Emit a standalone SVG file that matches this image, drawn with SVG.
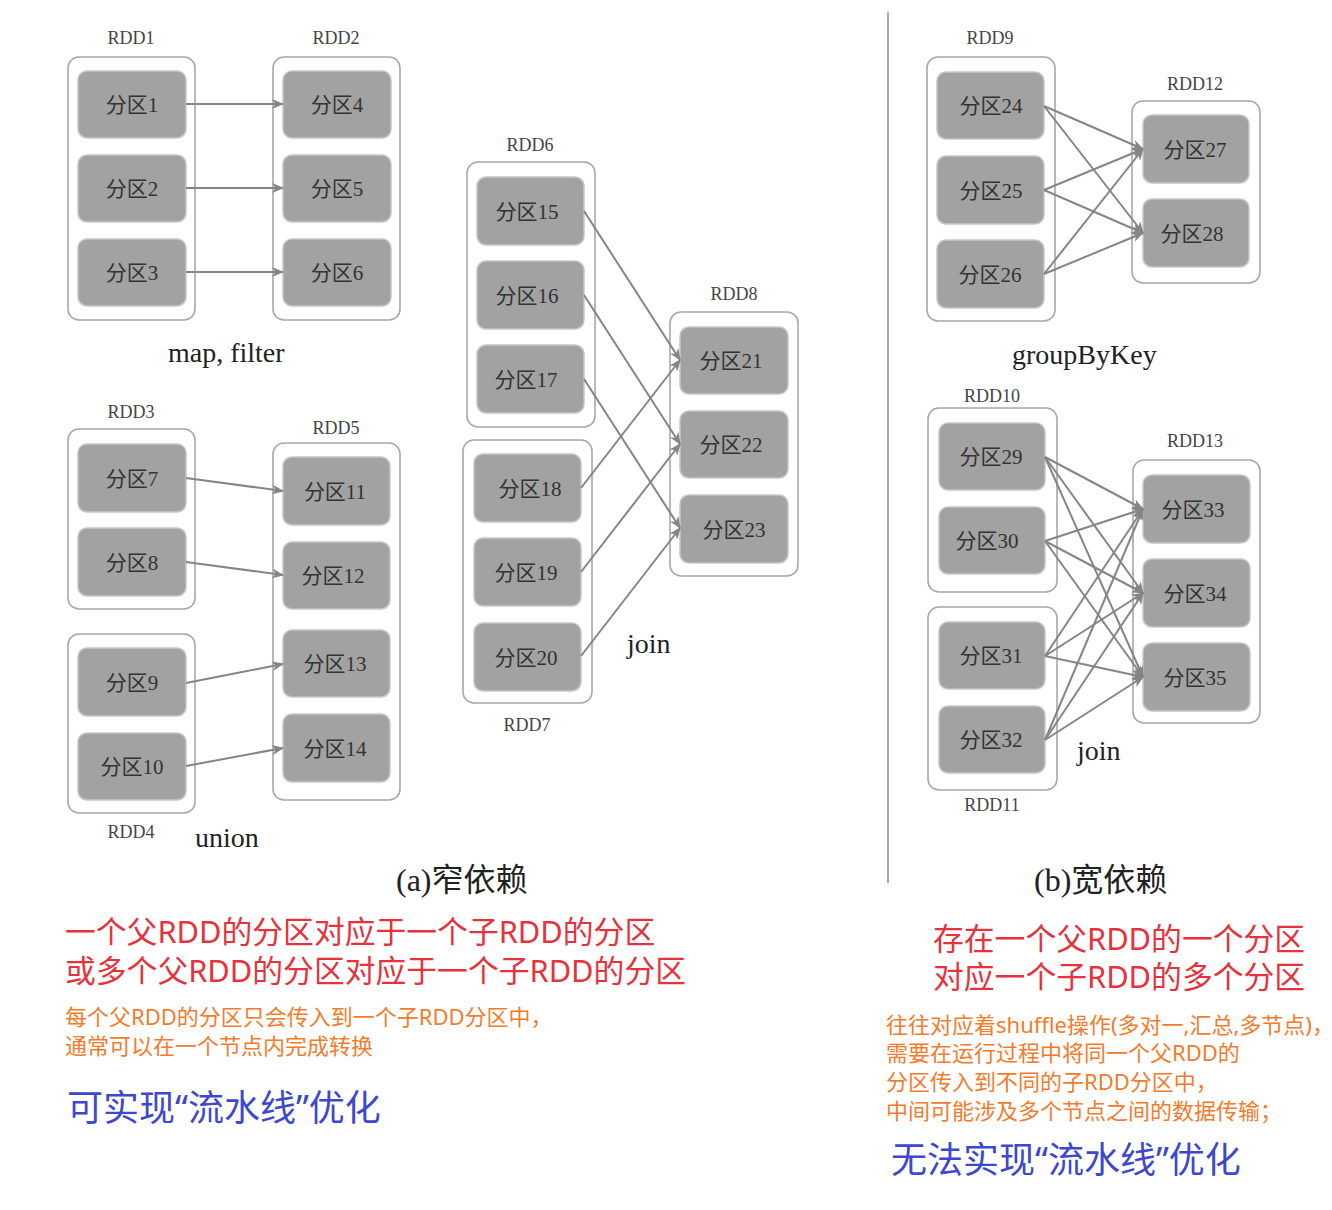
<svg xmlns="http://www.w3.org/2000/svg" width="1332" height="1210" viewBox="0 0 1332 1210">
  <style>
    .rdd { fill: #ffffff; stroke: #a8a8a8; stroke-width: 1.6; }
    .part rect { fill: #a2a2a2; stroke: #c6c6c6; stroke-width: 1.5; }
    .part text { font-family: "Liberation Serif", "Noto Sans CJK SC", serif; font-size: 21px; fill: #333333; text-anchor: middle; }
    .lbl { font-family: "Liberation Serif", serif; font-size: 18px; fill: #444444; text-anchor: middle; }
    .op { font-family: "Liberation Serif", serif; font-size: 28px; fill: #222222; }
    .cap { font-family: "Liberation Serif", "Noto Sans CJK SC", serif; font-size: 32px; fill: #222222; }
    .edge { stroke: #858585; stroke-width: 2; fill: none; marker-end: url(#arrow); }
    .note { font-family: "Noto Sans", "Noto Sans CJK SC", sans-serif; }
    .red { fill: #e5323d; font-size: 30.8px; }
    .org { fill: #f47b2b; font-size: 22px; }
    .blu { fill: #3d48cc; font-size: 36px; }
  </style>
  <defs>
    <marker id="arrow" viewBox="0 0 12 10" refX="11" refY="5" markerWidth="12" markerHeight="10" markerUnits="userSpaceOnUse" orient="auto">
      <path d="M0,0 L12,5 L0,10 L3.5,5 z" fill="#858585"/>
    </marker>
  </defs>

  <rect width="1332" height="1210" fill="#ffffff"/>

  <!-- divider between narrow and wide dependencies -->
  <line x1="888" y1="12" x2="888" y2="883" stroke="#a8a8a8" stroke-width="2"/>

  <!-- ===== (a) narrow dependencies ===== -->
  <g id="rdd1">
    <text class="lbl" x="131" y="44">RDD1</text>
    <rect class="rdd" x="68" y="57" width="127" height="263" rx="11"/>
    <g id="p1" class="part"><rect x="78" y="71" width="108" height="67" rx="9"/><text x="132" y="112">分区1</text></g>
    <g id="p2" class="part"><rect x="78" y="155" width="108" height="67" rx="9"/><text x="132" y="196">分区2</text></g>
    <g id="p3" class="part"><rect x="78" y="239" width="108" height="67" rx="9"/><text x="132" y="280">分区3</text></g>
  </g>
  <g id="rdd2">
    <text class="lbl" x="336" y="44">RDD2</text>
    <rect class="rdd" x="273" y="57" width="127" height="263" rx="11"/>
    <g id="p4" class="part"><rect x="283" y="71" width="108" height="67" rx="9"/><text x="337" y="112">分区4</text></g>
    <g id="p5" class="part"><rect x="283" y="155" width="108" height="67" rx="9"/><text x="337" y="196">分区5</text></g>
    <g id="p6" class="part"><rect x="283" y="239" width="108" height="67" rx="9"/><text x="337" y="280">分区6</text></g>
  </g>
  <text class="op" x="168" y="362">map, filter</text>

  <g id="rdd3">
    <text class="lbl" x="131" y="418">RDD3</text>
    <rect class="rdd" x="68" y="429" width="127" height="180" rx="11"/>
    <g id="p7" class="part"><rect x="78" y="444" width="108" height="68" rx="9"/><text x="132" y="486">分区7</text></g>
    <g id="p8" class="part"><rect x="78" y="528" width="108" height="68" rx="9"/><text x="132" y="570">分区8</text></g>
  </g>
  <g id="rdd4">
    <rect class="rdd" x="68" y="634" width="127" height="179" rx="11"/>
    <g id="p9" class="part"><rect x="78" y="648" width="108" height="68" rx="9"/><text x="132" y="690">分区9</text></g>
    <g id="p10" class="part"><rect x="78" y="733" width="108" height="67" rx="9"/><text x="132" y="774">分区10</text></g>
    <text class="lbl" x="131" y="838">RDD4</text>
  </g>
  <g id="rdd5">
    <text class="lbl" x="336" y="434">RDD5</text>
    <rect class="rdd" x="273" y="443" width="127" height="357" rx="11"/>
    <g id="p11" class="part"><rect x="283" y="457" width="107" height="68" rx="9"/><text x="335" y="499">分区11</text></g>
    <g id="p12" class="part"><rect x="283" y="542" width="107" height="67" rx="9"/><text x="333" y="583">分区12</text></g>
    <g id="p13" class="part"><rect x="283" y="630" width="107" height="67" rx="9"/><text x="335" y="671">分区13</text></g>
    <g id="p14" class="part"><rect x="283" y="714" width="107" height="68" rx="9"/><text x="335" y="756">分区14</text></g>
  </g>
  <text class="op" x="195" y="847">union</text>

  <g id="rdd6">
    <text class="lbl" x="530" y="151">RDD6</text>
    <rect class="rdd" x="467" y="162" width="128" height="265" rx="11"/>
    <g id="p15" class="part"><rect x="477" y="177" width="107" height="68" rx="9"/><text x="527" y="219">分区15</text></g>
    <g id="p16" class="part"><rect x="477" y="261" width="107" height="68" rx="9"/><text x="527" y="303">分区16</text></g>
    <g id="p17" class="part"><rect x="477" y="345" width="107" height="68" rx="9"/><text x="526" y="387">分区17</text></g>
  </g>
  <g id="rdd7">
    <rect class="rdd" x="463" y="440" width="129" height="263" rx="11"/>
    <g id="p18" class="part"><rect x="474" y="454" width="107" height="68" rx="9"/><text x="530" y="496">分区18</text></g>
    <g id="p19" class="part"><rect x="474" y="538" width="107" height="68" rx="9"/><text x="526" y="580">分区19</text></g>
    <g id="p20" class="part"><rect x="474" y="623" width="107" height="68" rx="9"/><text x="526" y="665">分区20</text></g>
    <text class="lbl" x="527" y="731">RDD7</text>
  </g>
  <g id="rdd8">
    <text class="lbl" x="734" y="300">RDD8</text>
    <rect class="rdd" x="670" y="312" width="128" height="264" rx="11"/>
    <g id="p21" class="part"><rect x="680" y="327" width="108" height="67" rx="9"/><text x="731" y="368">分区21</text></g>
    <g id="p22" class="part"><rect x="680" y="411" width="108" height="67" rx="9"/><text x="731" y="452">分区22</text></g>
    <g id="p23" class="part"><rect x="680" y="495" width="108" height="68" rx="9"/><text x="734" y="537">分区23</text></g>
  </g>
  <text class="op" x="627" y="653">join</text>

  <text class="cap" x="396" y="891">(a)窄依赖</text>

  <!-- ===== (b) wide dependencies ===== -->
  <g id="rdd9">
    <text class="lbl" x="990" y="44">RDD9</text>
    <rect class="rdd" x="927" y="57" width="128" height="264" rx="11"/>
    <g id="p24" class="part"><rect x="937" y="72" width="107" height="67" rx="9"/><text x="991" y="113">分区24</text></g>
    <g id="p25" class="part"><rect x="937" y="156" width="107" height="68" rx="9"/><text x="991" y="198">分区25</text></g>
    <g id="p26" class="part"><rect x="937" y="240" width="107" height="68" rx="9"/><text x="990" y="282">分区26</text></g>
  </g>
  <g id="rdd12">
    <text class="lbl" x="1195" y="90">RDD12</text>
    <rect class="rdd" x="1132" y="101" width="128" height="182" rx="11"/>
    <g id="p27" class="part"><rect x="1143" y="115" width="106" height="68" rx="9"/><text x="1195" y="157">分区27</text></g>
    <g id="p28" class="part"><rect x="1143" y="199" width="106" height="68" rx="9"/><text x="1192" y="241">分区28</text></g>
  </g>
  <text class="op" x="1012" y="364">groupByKey</text>

  <g id="rdd10">
    <text class="lbl" x="992" y="402">RDD10</text>
    <rect class="rdd" x="928" y="408" width="129" height="184" rx="11"/>
    <g id="p29" class="part"><rect x="939" y="423" width="106" height="67" rx="9"/><text x="991" y="464">分区29</text></g>
    <g id="p30" class="part"><rect x="939" y="507" width="106" height="67" rx="9"/><text x="987" y="548">分区30</text></g>
  </g>
  <g id="rdd11">
    <rect class="rdd" x="928" y="607" width="129" height="183" rx="11"/>
    <g id="p31" class="part"><rect x="939" y="622" width="106" height="67" rx="9"/><text x="991" y="663">分区31</text></g>
    <g id="p32" class="part"><rect x="939" y="706" width="106" height="67" rx="9"/><text x="991" y="747">分区32</text></g>
    <text class="lbl" x="992" y="811">RDD11</text>
  </g>
  <g id="rdd13">
    <text class="lbl" x="1195" y="447">RDD13</text>
    <rect class="rdd" x="1133" y="460" width="127" height="263" rx="11"/>
    <g id="p33" class="part"><rect x="1143" y="475" width="107" height="68" rx="9"/><text x="1193" y="517">分区33</text></g>
    <g id="p34" class="part"><rect x="1143" y="559" width="107" height="68" rx="9"/><text x="1195" y="601">分区34</text></g>
    <g id="p35" class="part"><rect x="1143" y="643" width="107" height="68" rx="9"/><text x="1195" y="685">分区35</text></g>
  </g>
  <text class="op" x="1077" y="760">join</text>

  <text class="cap" x="1034" y="891">(b)宽依赖</text>

  <!-- ===== connectors ===== -->
  <g id="edges">
    <!-- map, filter -->
    <line class="edge" x1="186" y1="104" x2="283" y2="104"/>
    <line class="edge" x1="186" y1="188" x2="283" y2="188"/>
    <line class="edge" x1="186" y1="272" x2="283" y2="272"/>
    <!-- union -->
    <line class="edge" x1="186" y1="478" x2="283" y2="491"/>
    <line class="edge" x1="186" y1="562" x2="283" y2="575"/>
    <line class="edge" x1="186" y1="683" x2="283" y2="664"/>
    <line class="edge" x1="186" y1="766" x2="283" y2="748"/>
    <!-- join (co-partitioned) -->
    <line class="edge" x1="584" y1="211" x2="680" y2="360"/>
    <line class="edge" x1="584" y1="295" x2="680" y2="444"/>
    <line class="edge" x1="584" y1="379" x2="680" y2="528"/>
    <line class="edge" x1="581" y1="488" x2="680" y2="360"/>
    <line class="edge" x1="581" y1="572" x2="680" y2="444"/>
    <line class="edge" x1="581" y1="656" x2="680" y2="528"/>
    <!-- groupByKey -->
    <line class="edge" x1="1044" y1="106" x2="1143" y2="149"/>
    <line class="edge" x1="1044" y1="106" x2="1143" y2="233"/>
    <line class="edge" x1="1044" y1="190" x2="1143" y2="149"/>
    <line class="edge" x1="1044" y1="190" x2="1143" y2="233"/>
    <line class="edge" x1="1044" y1="274" x2="1143" y2="149"/>
    <line class="edge" x1="1044" y1="274" x2="1143" y2="233"/>
    <!-- join (shuffle) -->
    <line class="edge" x1="1045" y1="457" x2="1143" y2="509"/>
    <line class="edge" x1="1045" y1="457" x2="1143" y2="593"/>
    <line class="edge" x1="1045" y1="457" x2="1143" y2="677"/>
    <line class="edge" x1="1045" y1="541" x2="1143" y2="509"/>
    <line class="edge" x1="1045" y1="541" x2="1143" y2="593"/>
    <line class="edge" x1="1045" y1="541" x2="1143" y2="677"/>
    <line class="edge" x1="1045" y1="656" x2="1143" y2="509"/>
    <line class="edge" x1="1045" y1="656" x2="1143" y2="593"/>
    <line class="edge" x1="1045" y1="656" x2="1143" y2="677"/>
    <line class="edge" x1="1045" y1="740" x2="1143" y2="509"/>
    <line class="edge" x1="1045" y1="740" x2="1143" y2="593"/>
    <line class="edge" x1="1045" y1="740" x2="1143" y2="677"/>
  </g>

  <!-- ===== notes ===== -->
  <g class="note">
    <text class="red" x="65" y="943">一个父RDD的分区对应于一个子RDD的分区</text>
    <text class="red" x="65" y="982">或多个父RDD的分区对应于一个子RDD的分区</text>
    <text class="org" x="65" y="1025">每个父RDD的分区只会传入到一个子RDD分区中，</text>
    <text class="org" x="65" y="1054">通常可以在一个节点内完成转换</text>
    <text class="blu" x="67" y="1121">可实现“流水线”优化</text>

    <text class="red" x="933" y="950">存在一个父RDD的一个分区</text>
    <text class="red" x="933" y="988">对应一个子RDD的多个分区</text>
    <text class="org" x="886" y="1033">往往对应着shuffle操作(多对一,汇总,多节点)，</text>
    <text class="org" x="886" y="1061">需要在运行过程中将同一个父RDD的</text>
    <text class="org" x="886" y="1090">分区传入到不同的子RDD分区中，</text>
    <text class="org" x="886" y="1119">中间可能涉及多个节点之间的数据传输；</text>
    <text class="blu" x="891" y="1173">无法实现“流水线”优化</text>
  </g>
</svg>
